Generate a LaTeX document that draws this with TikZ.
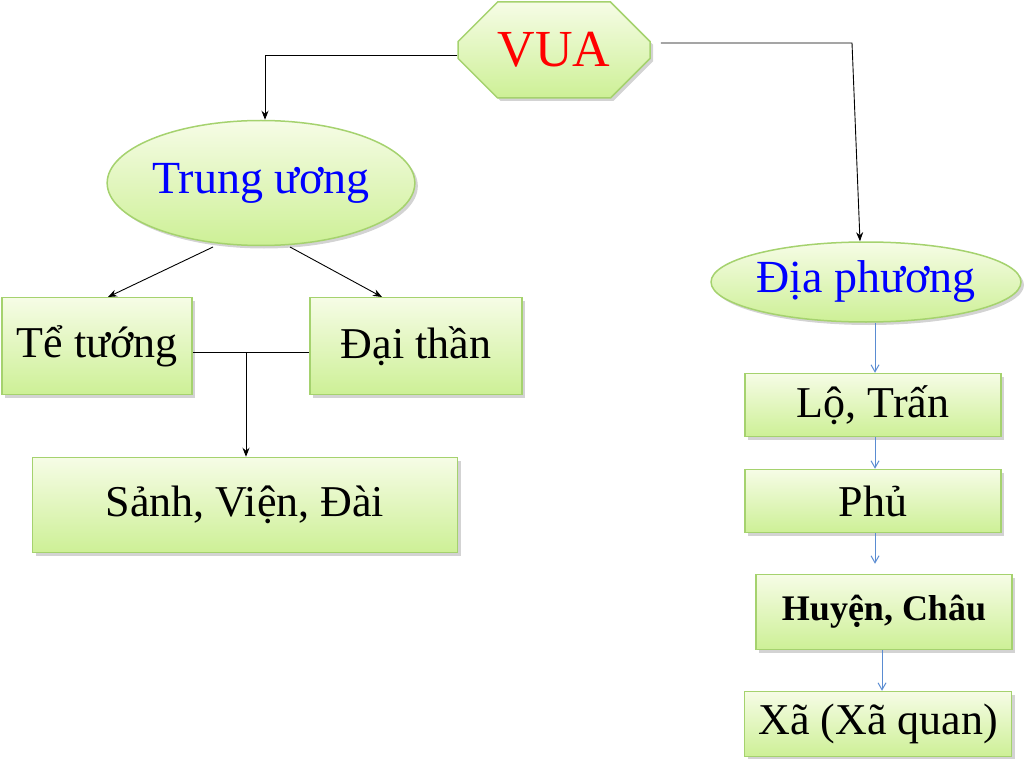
\documentclass[tikz,border=0pt]{standalone}
\usepackage{fontspec}
\setmainfont{Liberation Serif}
\usetikzlibrary{shapes.geometric,shapes.misc,shadows,arrows.meta}
\definecolor{gtop}{RGB}{246,252,230}
\definecolor{gbot}{RGB}{205,240,150}
\definecolor{gline}{RGB}{165,210,110}
\definecolor{bl}{RGB}{90,140,210}
\begin{document}
\begin{tikzpicture}[x=1pt,y=-1pt,
  gbox/.style={draw=gline,line width=1.5pt,top color=gtop,bottom color=gbot,drop shadow={shadow xshift=3pt,shadow yshift=-3pt,opacity=0.35},inner sep=0pt,font=\fontsize{44}{46}\selectfont},
  conn/.style={-{Stealth[length=9pt,width=7pt]},line width=0.9pt},
  bconn/.style={-{Straight Barb[length=7pt,width=8pt]},draw=bl,line width=1pt}]
\useasboundingbox (0,0) rectangle (1024,759);
\node[gbox,chamfered rectangle,chamfered rectangle xsep=22pt,chamfered rectangle ysep=22pt,minimum width=192pt,minimum height=96pt,text=red,font=\fontsize{52}{54}\selectfont] (vua) at (554,50) {VUA};
\node[gbox,ellipse,minimum width=268pt,minimum height=125pt,text=blue,font=\fontsize{46}{48}\selectfont] (tw) at (261,183) {Trung ương};
\node[gbox,ellipse,minimum width=284pt,minimum height=80pt,text=blue,font=\fontsize{46}{48}\selectfont] (dp) at (866,282) {Địa phương};
\node[gbox,minimum width=190pt,minimum height=97pt] (tt) at (97,346) {Tể tướng};
\node[gbox,minimum width=212pt,minimum height=97pt] (dt) at (416,346) {Đại thần};
\node[gbox,minimum width=425pt,minimum height=95pt] (svd) at (245,505) {Sảnh, Viện, Đài};
\node[gbox,minimum width=256pt,minimum height=63pt] (lt) at (873,405) {Lộ, Trấn};
\node[gbox,minimum width=256pt,minimum height=63pt] (ph) at (873,501) {Phủ};
\node[gbox,minimum width=256pt,minimum height=75pt,font=\fontsize{36}{38}\selectfont\bfseries] (hc) at (884,612) {Huyện, Châu};
\node[gbox,minimum width=267pt,minimum height=65pt] (xa) at (878,724) {Xã (Xã quan)};
\coordinate (a1) at (265,55);
\coordinate (a2) at (852,43);
\coordinate (j) at (246,352);
\draw[conn] (vua.west |- a1) -- (a1) -- (tw.north -| a1);
\draw[conn] ([xshift=10pt]vua.east |- a2) -- (a2) -- (dp.north -| 860,0);
\draw[conn] (213,247) -- (108,297);
\draw[conn] (290,247) -- (382,297);
\draw[line width=0.9pt] (tt.east |- j) -- (dt.west |- j);
\draw[conn] (j) -- (svd.north -| j);
\draw[bconn] (dp.south -| 875,0) -- (lt.north -| 875,0);
\draw[bconn] (lt.south -| 875,0) -- (ph.north -| 875,0);
\draw[bconn] (ph.south -| 875,0) -- ([yshift=10pt]hc.north -| 875,0);
\draw[bconn] (hc.south -| 882,0) -- (xa.north -| 882,0);
\end{tikzpicture}
\end{document}
